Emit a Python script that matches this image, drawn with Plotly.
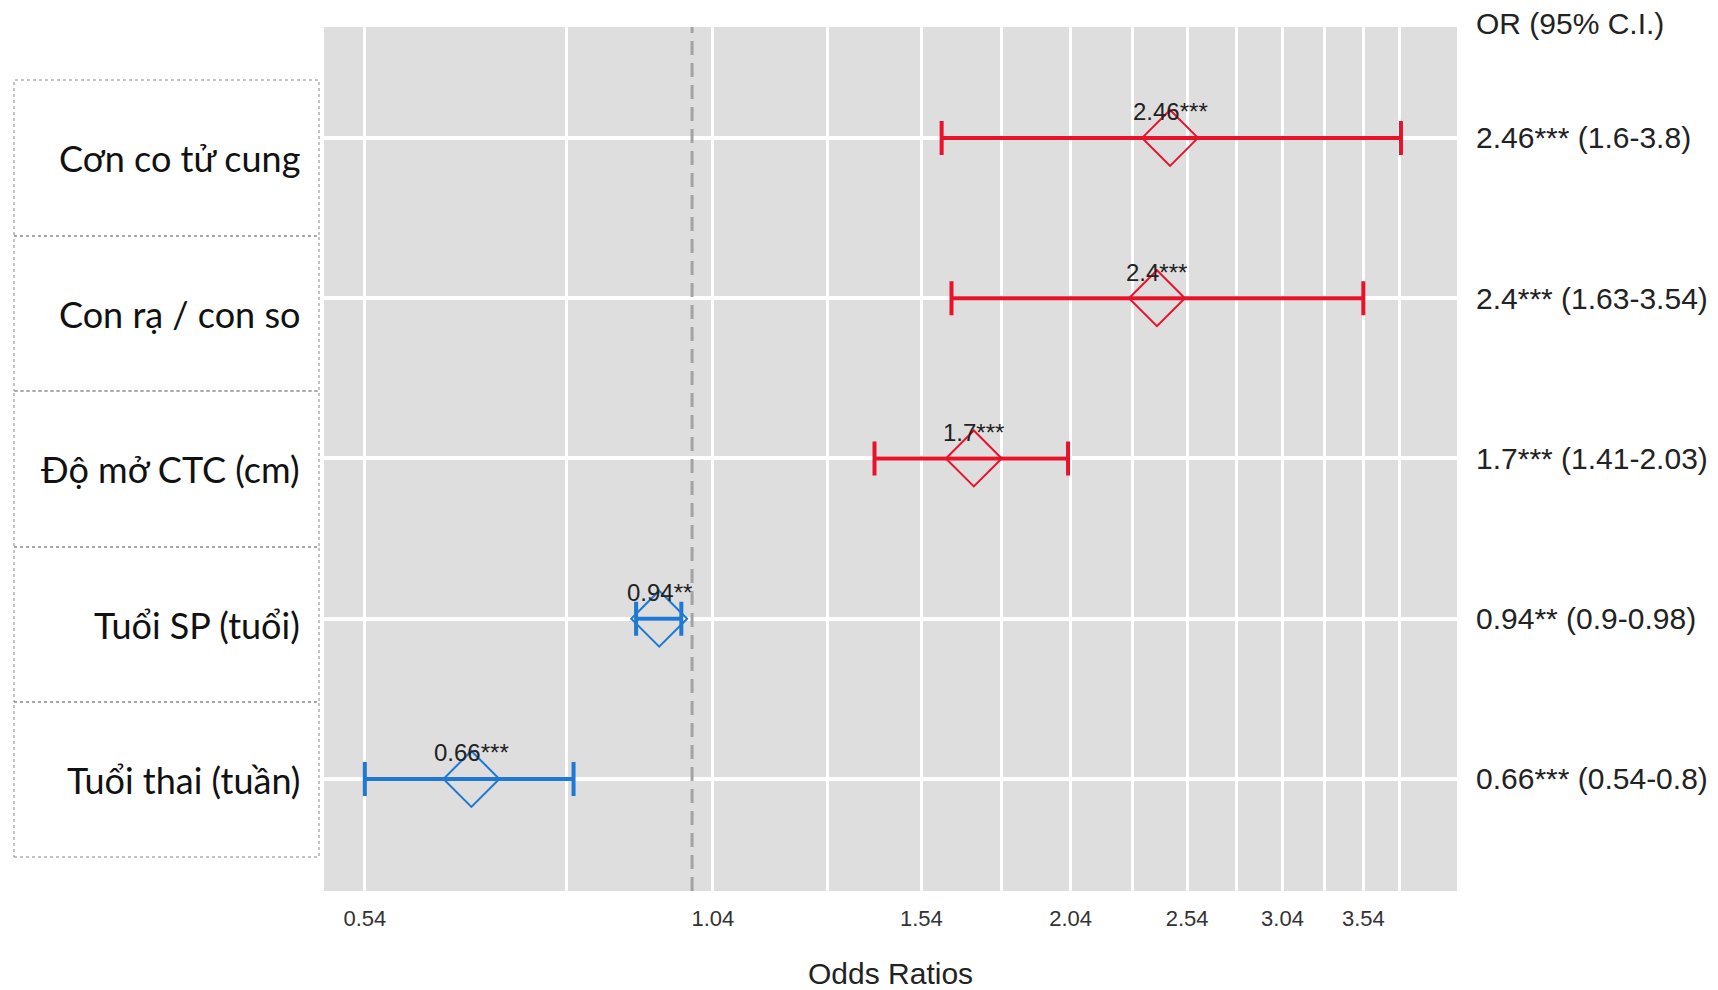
import numpy as np
import plotly.graph_objects as go

# ---------------- data ----------------
labels = ["Cơn co tử cung", "Con rạ / con so", "Độ mở CTC (cm)", "Tuổi SP (tuổi)", "Tuổi thai (tuần)"]
or_vals = [2.46, 2.4, 1.7, 0.94, 0.66]
ci_low = [1.6, 1.63, 1.41, 0.9, 0.54]
ci_high = [3.8, 3.54, 2.03, 0.98, 0.8]
stars = ["***", "***", "***", "**", "***"]
tick_vals = [0.54, 1.04, 1.54, 2.04, 2.54, 3.04, 3.54]
tick_text = ["0.54", "1.04", "1.54", "2.04", "2.54", "3.04", "3.54"]
minor_vals = [0.79, 1.29, 1.79, 2.29, 2.79, 3.29, 3.79]
ref_value = 1.0

# ---------------- layout geometry (page pixels) ----------------
OFF = 8  # default page body margin
W, H = 1718 - OFF, 990 - OFF
PL, PR, PT, PB = 324, 1457, 27, 891  # page coordinates of the plot panel
PW, PH = PR - PL, PB - PT


def px_x(px):
    return (px - PL) / PW


def px_y(py):
    return (PB - py) / PH


RED = "#E8132B"
BLUE = "#1F78D1"
TXT = "#222222"

fig = go.Figure()

groups = [("pos", RED, lambda v: v > 1), ("neg", BLUE, lambda v: v <= 1)]
for name, col, cond in groups:
    idx = [i for i, v in enumerate(or_vals) if cond(v)]
    xs = [or_vals[i] for i in idx]
    ys = [labels[i] for i in idx]
    plus = [ci_high[i] - or_vals[i] for i in idx]
    minus = [or_vals[i] - ci_low[i] for i in idx]
    fig.add_trace(go.Scatter(
        x=xs, y=ys, mode="markers", name=name, showlegend=False,
        marker=dict(symbol="diamond-open", size=43, color=col, line=dict(width=2, color=col)),
        error_x=dict(type="data", symmetric=False, array=plus, arrayminus=minus,
                     color=col, thickness=4, width=17),
        hoverinfo="skip",
    ))

annotations = []
# value labels above the diamonds
for lab, v, s in zip(labels, or_vals, stars):
    annotations.append(dict(
        x=np.log10(v), y=lab, xref="x", yref="y", text=f"{v:g}{s}",
        showarrow=False, yshift=26, xanchor="center", yanchor="middle",
        font=dict(family="Liberation Sans, Arial", size=24, color=TXT)))

# right-side OR (95% CI) text
for lab, v, s, lo, hi in zip(labels, or_vals, stars, ci_low, ci_high):
    annotations.append(dict(
        x=px_x(1474), y=lab, xref="paper", yref="y",
        text=f"{v:g}{s} ({lo:g}-{hi:g})", showarrow=False,
        xanchor="left", yanchor="middle",
        font=dict(family="Liberation Sans, Arial", size=30, color=TXT)))
annotations.append(dict(
    x=px_x(1474), y=px_y(24), xref="paper", yref="paper", text="OR (95% C.I.)",
    showarrow=False, xanchor="left", yanchor="middle",
    font=dict(family="Liberation Sans, Arial", size=30, color=TXT)))

# x axis title
annotations.append(dict(
    x=px_x(890), y=px_y(973), xref="paper", yref="paper", text="Odds Ratios",
    showarrow=False, xanchor="center", yanchor="middle",
    font=dict(family="Liberation Sans, Arial", size=30, color=TXT)))

# left label table
cell_edges = [80, 236, 391, 547, 702, 857]
shapes = []
for i, lab in enumerate(labels):
    y0, y1 = cell_edges[i], cell_edges[i + 1]
    shapes.append(dict(type="rect", xref="paper", yref="paper",
                       x0=px_x(14), x1=px_x(319), y0=px_y(y1), y1=px_y(y0),
                       line=dict(color="#8A8A8A", width=1, dash="dot"),
                       fillcolor="rgba(0,0,0,0)"))
    annotations.append(dict(
        x=px_x(302), y=px_y((y0 + y1) / 2), xref="paper", yref="paper",
        text=lab, showarrow=False, xanchor="right", yanchor="middle",
        font=dict(family="Lato, Carlito, Open Sans", size=36, color="#111111")))

# reference line at OR = 1
shapes.append(dict(type="line", xref="x", yref="paper", x0=ref_value, x1=ref_value,
                   y0=0, y1=1, layer="above",
                   line=dict(color="#A3A3A3", width=3, dash="14px,8px")))

fig.update_layout(
    width=W, height=H,
    margin=dict(l=PL - OFF, r=W - (PR - OFF), t=PT - OFF, b=H - (PB - OFF), pad=0),
    paper_bgcolor="white", plot_bgcolor="#DEDEDE",
    shapes=shapes, annotations=annotations,
    xaxis=dict(type="log", range=[-0.301, 0.6256],
               tickmode="array", tickvals=tick_vals, ticktext=tick_text,
               showgrid=True, gridcolor="white", gridwidth=3,
               minor=dict(tickvals=minor_vals, showgrid=True, gridcolor="white", gridwidth=2.5, ticks=""),
               ticks="", zeroline=False, showline=False,
               ticklabelstandoff=12,
               tickfont=dict(family="Liberation Sans, Arial", size=22, color="#333333")),
    yaxis=dict(type="category", categoryorder="array", categoryarray=labels,
               range=[len(labels) - 1 + 0.699, -0.692],
               showgrid=True, gridcolor="white", gridwidth=3.5,
               showticklabels=False, ticks="", zeroline=False, showline=False),
)

fig.write_html("out.html")
